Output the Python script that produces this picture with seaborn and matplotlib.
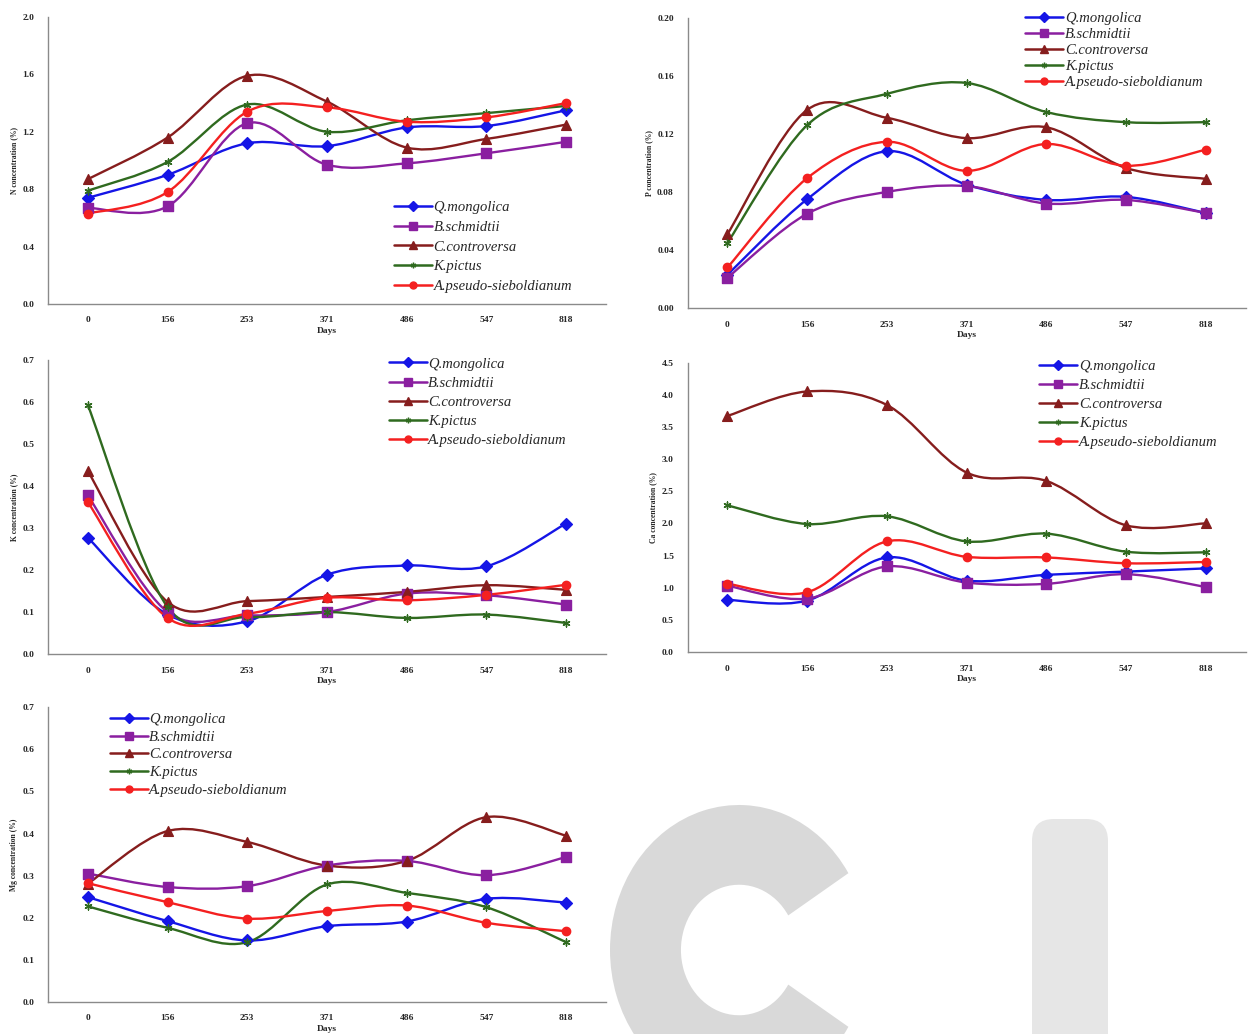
import numpy as np
import pandas as pd
import matplotlib
matplotlib.use("Agg")
import matplotlib.pyplot as plt
import seaborn as sns
from matplotlib.path import Path
from matplotlib.patches import PathPatch, Wedge, FancyBboxPatch
from matplotlib.lines import Line2D
from matplotlib.transforms import Affine2D

days = ["0", "156", "253", "371", "486", "547", "818"]
species = ["Q.mongolica", "B.schmidtii", "C.controversa", "K.pictus", "A.pseudo-sieboldianum"]

n_conc = {
    "Q.mongolica": [0.74, 0.90, 1.12, 1.10, 1.23, 1.24, 1.35],
    "B.schmidtii": [0.67, 0.68, 1.26, 0.97, 0.98, 1.05, 1.13],
    "C.controversa": [0.87, 1.16, 1.59, 1.41, 1.09, 1.15, 1.25],
    "K.pictus": [0.79, 0.99, 1.39, 1.20, 1.28, 1.33, 1.38],
    "A.pseudo-sieboldianum": [0.63, 0.78, 1.34, 1.37, 1.27, 1.30, 1.40],
}
p_conc = {
    "Q.mongolica": [0.023, 0.075, 0.108, 0.085, 0.0745, 0.0766, 0.0655],
    "B.schmidtii": [0.021, 0.065, 0.080, 0.084, 0.072, 0.0745, 0.0655],
    "C.controversa": [0.051, 0.1365, 0.131, 0.117, 0.1245, 0.0965, 0.089],
    "K.pictus": [0.045, 0.126, 0.1475, 0.155, 0.135, 0.128, 0.128],
    "A.pseudo-sieboldianum": [0.028, 0.0895, 0.1145, 0.0945, 0.113, 0.098, 0.109],
}
k_conc = {
    "Q.mongolica": [0.277, 0.094, 0.078, 0.189, 0.211, 0.209, 0.311],
    "B.schmidtii": [0.378, 0.100, 0.092, 0.100, 0.144, 0.140, 0.118],
    "C.controversa": [0.436, 0.124, 0.126, 0.136, 0.148, 0.164, 0.153],
    "K.pictus": [0.593, 0.112, 0.088, 0.100, 0.086, 0.094, 0.074],
    "A.pseudo-sieboldianum": [0.362, 0.086, 0.096, 0.134, 0.128, 0.141, 0.165],
}
ca_conc = {
    "Q.mongolica": [0.81, 0.80, 1.47, 1.11, 1.20, 1.25, 1.30],
    "B.schmidtii": [1.03, 0.83, 1.33, 1.08, 1.06, 1.21, 1.01],
    "C.controversa": [3.67, 4.05, 3.84, 2.79, 2.66, 1.97, 2.00],
    "K.pictus": [2.28, 1.99, 2.11, 1.72, 1.84, 1.56, 1.55],
    "A.pseudo-sieboldianum": [1.06, 0.93, 1.72, 1.48, 1.47, 1.38, 1.40],
}
mg_conc = {
    "Q.mongolica": [0.249, 0.192, 0.146, 0.180, 0.191, 0.245, 0.236],
    "B.schmidtii": [0.305, 0.273, 0.275, 0.324, 0.335, 0.301, 0.344],
    "C.controversa": [0.281, 0.406, 0.380, 0.324, 0.335, 0.439, 0.395],
    "K.pictus": [0.227, 0.176, 0.142, 0.279, 0.259, 0.225, 0.142],
    "A.pseudo-sieboldianum": [0.282, 0.237, 0.198, 0.216, 0.229, 0.188, 0.168],
}

colors = {
    "Q.mongolica": "#1515e6",
    "B.schmidtii": "#8a1fa0",
    "C.controversa": "#861d1d",
    "K.pictus": "#2f6a1f",
    "A.pseudo-sieboldianum": "#f42020",
}
markers = {
    "Q.mongolica": "D",
    "B.schmidtii": "s",
    "C.controversa": "^",
    "K.pictus": (6, 2, 0),
    "A.pseudo-sieboldianum": "o",
}
msizes = {"Q.mongolica": 6, "B.schmidtii": 7, "C.controversa": 7,
          "K.pictus": 5, "A.pseudo-sieboldianum": 6}

sns.set_style("white")
plt.rcParams["font.family"] = ["Liberation Serif", "DejaVu Serif"]

fig = plt.figure(figsize=(12.48, 10.34), dpi=100)


def smooth_line(ax, xs, ys, color):
    # Excel-like smoothed line: cubic bezier through the points
    pts = np.column_stack([xs, ys])
    n = len(pts)
    verts = [pts[0]]
    codes = [Path.MOVETO]
    for i in range(n - 1):
        p0 = pts[i - 1] if i > 0 else pts[i]
        p1, p2 = pts[i], pts[i + 1]
        p3 = pts[i + 2] if i + 2 < n else pts[i + 1]
        c1 = p1 + (p2 - p0) / 6.0
        c2 = p2 - (p3 - p1) / 6.0
        verts += [c1, c2, p2]
        codes += [Path.CURVE4] * 3
    ax.add_patch(PathPatch(Path(verts, codes), facecolor="none",
                           edgecolor=color, lw=1.7, zorder=2))


def panel(rect, data, ylim, yticks, yfmt, ylabel, leg_anchor, leg_spacing):
    ax = fig.add_axes(rect)
    rows = []
    for sp in species:
        for i, v in enumerate(data[sp]):
            rows.append({"species": sp, "pos": i, "value": v})
    df = pd.DataFrame(rows)
    for sp in species:
        sub = df[df["species"] == sp]
        smooth_line(ax, sub["pos"].values, sub["value"].values, colors[sp])
        sns.scatterplot(data=sub, x="pos", y="value", color=colors[sp],
                        marker=markers[sp], s=msizes[sp] ** 2,
                        edgecolor=colors[sp], linewidth=1.0, ax=ax, zorder=3,
                        legend=False)
    ax.set_xlim(-0.5, 6.5)
    ax.set_ylim(*ylim)
    ax.set_yticks(yticks)
    ax.set_yticklabels([yfmt.format(t) for t in yticks])
    ax.set_xticks(range(len(days)))
    ax.set_xticklabels(days)
    ax.set_xticks(np.arange(0.5, 6.0, 1.0), minor=True)
    ax.tick_params(axis="x", which="major", length=0, pad=9)
    ax.tick_params(axis="x", which="minor", length=3, direction="in",
                   color="#888888")
    ax.tick_params(axis="y", length=0, pad=10)
    for lab in ax.get_xticklabels() + ax.get_yticklabels():
        lab.set_fontsize(6.8)
        lab.set_fontweight("bold")
    ax.set_xlabel("Days", fontsize=6.8, fontweight="bold", labelpad=2)
    ax.set_ylabel(ylabel, fontsize=5.5, fontweight="bold", labelpad=3)
    for s in ["top", "right"]:
        ax.spines[s].set_visible(False)
    for s in ["left", "bottom"]:
        ax.spines[s].set_color("#8a8a8a")
        ax.spines[s].set_linewidth(1.0)
    handles = [Line2D([0], [0], color=colors[sp], lw=1.8, marker=markers[sp],
                      markersize=msizes[sp] - 1, markeredgecolor=colors[sp])
               for sp in species]
    ax.legend(handles, species, loc="upper left", bbox_to_anchor=leg_anchor,
              frameon=False, handlelength=2.6, handletextpad=0.1,
              labelspacing=leg_spacing, borderaxespad=0,
              prop={"family": "Liberation Serif", "style": "italic",
                    "size": 10.5})
    return ax


L, R = 0.0385, 0.551
W = 0.447
panel([L, 0.706, W, 0.2776], n_conc, (0, 2.0), [0, 0.4, 0.8, 1.2, 1.6, 2.0],
      "{:.1f}", "N concentration (%)", (0.61, 0.38), 0.45)
panel([R, 0.702, W, 0.281], p_conc, (0, 0.20),
      [0, 0.04, 0.08, 0.12, 0.16, 0.20], "{:.2f}", "P concentration (%)",
      (0.595, 1.04), 0.2)
panel([L, 0.3675, W, 0.284], k_conc, (0, 0.7),
      [0, 0.1, 0.2, 0.3, 0.4, 0.5, 0.6, 0.7], "{:.1f}", "K concentration (%)",
      (0.60, 1.03), 0.4)
panel([R, 0.3694, W, 0.280], ca_conc, (0, 4.5),
      [0, 0.5, 1.0, 1.5, 2.0, 2.5, 3.0, 3.5, 4.0, 4.5], "{:.1f}",
      "Ca concentration (%)", (0.62, 1.03), 0.4)
panel([L, 0.031, W, 0.285], mg_conc, (0, 0.7),
      [0, 0.1, 0.2, 0.3, 0.4, 0.5, 0.6, 0.7], "{:.1f}",
      "Mg concentration (%)", (0.10, 1.0), 0.3)

# light grey logo in the lower right corner
c_shape = Wedge((0, 0), 1.0, 32, 328, width=0.55, facecolor="#d9d9d9",
                edgecolor="none",
                transform=Affine2D().scale(129, 145).translate(739, 84))
fig.patches.append(c_shape)
bar = FancyBboxPatch((1032, -40), 76, 255, boxstyle="round,pad=0,rounding_size=22",
                     facecolor="#e6e6e6", edgecolor="none", transform=None)
fig.patches.append(bar)

fig.savefig("out.png", dpi=100)
